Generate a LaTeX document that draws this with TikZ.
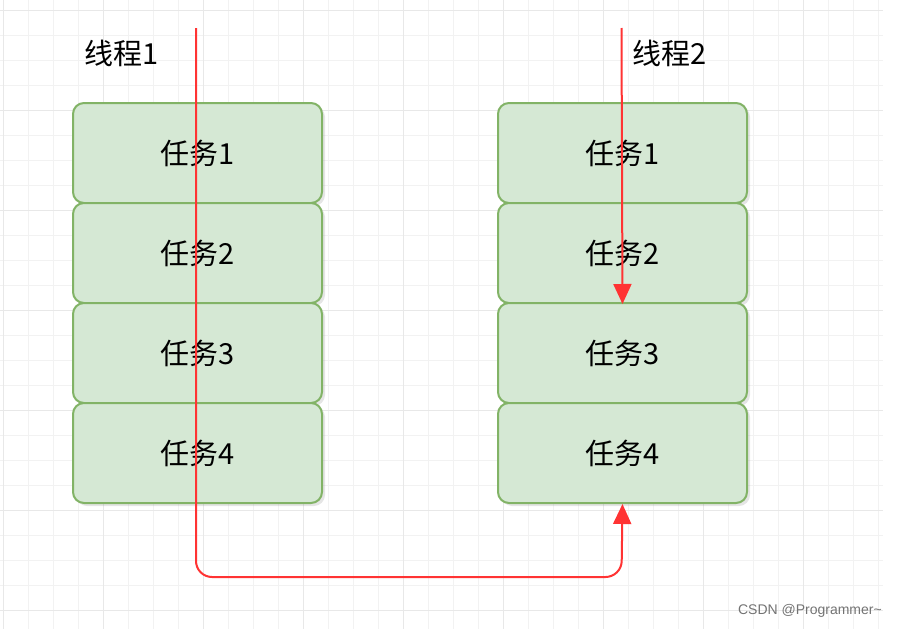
\documentclass[tikz,border=0pt]{standalone}
\usepackage{fontspec}
\setmainfont{Liberation Sans}
\newfontfamily\cjk{Noto Sans CJK SC}
\usetikzlibrary{arrows.meta,shadows}
\definecolor{gfill}{HTML}{D5E8D4}
\definecolor{gline}{HTML}{82B366}
\definecolor{rline}{HTML}{FF3333}
\tikzset{
  task/.style={draw=gline,line width=2pt,fill=gfill,rounded corners=11pt,minimum width=249pt,minimum height=100pt,anchor=north west,inner sep=0pt,font=\cjk\fontsize{29}{34}\selectfont,drop shadow={shadow xshift=3pt,shadow yshift=-3pt,opacity=0.2}},
  thr/.style={font=\cjk\fontsize{29}{34}\selectfont},
  flow/.style={draw=rline,line width=2pt,-{Triangle[length=20pt,width=18pt]}}
}
\begin{document}
\begin{tikzpicture}[x=1pt,y=-1pt]
\useasboundingbox (0,0) rectangle (897,629);
\fill[white] (0,0) rectangle (897,629);
\foreach \x in {3,28,...,883} \draw[black!5,line width=0.8pt] (\x,0) -- (\x,629);
\foreach \y in {10,35,...,629} \draw[black!5,line width=0.8pt] (0,\y) -- (883,\y);
\foreach \x in {3,103,...,883} \draw[black!9,line width=0.8pt] (\x,0) -- (\x,629);
\foreach \y in {10,110,...,629} \draw[black!9,line width=0.8pt] (0,\y) -- (883,\y);
\foreach \i in {1,2,3,4}{
  \node[task] (a\i) at (72,{102+100*(\i-1)}) {任务\i};
  \node[task] (b\i) at (497,{102+100*(\i-1)}) {任务\i};
}
\node[thr] (t1) at (122,53) {线程1};
\node[thr] (t2) at (670,53) {线程2};
\coordinate (s1) at (196,28);
\coordinate (s2) at (621.5,28);
\draw[flow,rounded corners=16pt] (s1) -- (196,577) -- (621.5,577) -- (b4.south);
\draw[flow] (s2) -- (b2.south);
\node[text=black!55,font=\fontsize{14}{16}\selectfont,anchor=east,inner sep=0pt] (wm) at (882,611) {CSDN @Programmer\textasciitilde};
\end{tikzpicture}
\end{document}
